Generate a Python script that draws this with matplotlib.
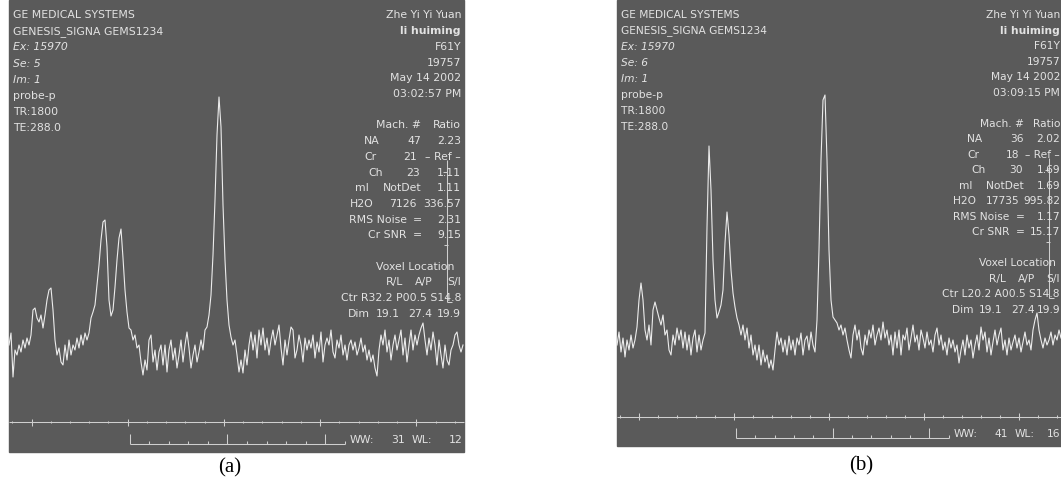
import numpy as np
import matplotlib
matplotlib.use("Agg")
import matplotlib.pyplot as plt
from matplotlib.patches import Rectangle

W, H = 1061, 483
BG = "#5a5a5a"
FG = "#e2e2e2"
LINE = "#cfcfcf"
FONT = "DejaVu Sans"
FS = 7.8

# spectrum amplitude above baseline, one sample every 2 px
spec_a = [15, 27, -17, 10, 5, 15, 8, 20, 12, 22,
          15, 25, 50, 52, 42, 38, 45, 32, 45, 60,
          70, 72, 50, 20, 5, 12, -2, -5, 15, 0,
          20, 5, 15, 10, 22, 12, 25, 15, 27, 20,
          27, 42, 48, 55, 75, 95, 120, 138, 140, 113,
          60, 44, 50, 73, 100, 122, 131, 102, 70, 48,
          32, 30, 20, 25, 12, 15, -2, -15, 0, -10,
          20, 25, -2, 10, -10, 8, 15, -5, 15, -12,
          10, 20, 0, 12, -8, 5, 20, -2, 15, 28,
          12, -8, 5, 15, -2, 8, 20, 10, 30, 33,
          45, 65, 105, 160, 225, 263, 233, 155, 100, 60,
          35, 23, 15, 20, 5, -12, 0, -13, 10, -5,
          15, 28, 10, 25, 2, 30, 15, 32, 10, 22,
          5, 20, 30, 15, 25, 35, 12, -5, 20, 5,
          20, 33, 30, 2, 10, 25, 15, -2, 22, 10,
          20, 12, 25, 2, 18, 8, 28, -2, 15, 22,
          15, 30, 8, 2, 20, 12, 25, 5, 15, 0,
          15, 20, 10, 18, 5, 12, 22, 8, 15, 0,
          10, -2, 5, -8, -16, 10, 25, 15, 30, 8,
          20, 0, 15, 25, 10, 20, 30, 5, 22, -2,
          15, 30, 10, 25, 15, 25, 32, 37, 20, 5,
          22, 10, 28, 15, -5, 20, 5, -8, 15, 0,
          -5, 10, 15, 25, 28, 15, 8, 15]

spec_b = [0, 13, -7, 7, -12, 5, -5, 10, -3, 5,
          18, 45, 62, 45, 15, 5, 20, 0, 35, 43,
          35, 27, 20, 30, 10, 15, -5, -10, 10, 0,
          17, 5, 15, -3, 13, -5, 10, -10, 7, 15,
          -7, 10, -5, 5, 12, 118, 199, 155, 85, 45,
          27, 33, 40, 55, 102, 133, 110, 75, 52, 38,
          27, 20, 10, 20, 5, 17, -3, 10, -10, 0,
          -15, 0, -20, -5, -17, -10, -23, -15, -25, -5,
          13, 0, 7, -7, 5, -10, 9, -5, 5, -10,
          7, 0, 12, -10, 5, 9, -5, 13, 0, -7,
          25, 95, 185, 245, 250, 185, 95, 45, 28, 25,
          22, 15, 20, 10, 17, 5, -5, -13, 10, 20,
          5, 15, -3, -10, 10, 0, 15, 7, 20, 0,
          10, 17, 5, 23, 7, 15, 0, 10, -10, 13,
          -3, 15, -10, 10, 5, 17, -5, 7, 20, 3,
          10, -5, 15, 7, -3, 13, 0, 5, -7, 10,
          17, 0, 10, -5, 3, -10, 7, -3, 5, -7,
          0, -18, -5, 5, -10, 10, -3, 5, -13, 0,
          10, -5, 18, 5, 13, -7, 7, -10, 3, 15,
          0, 10, 17, -5, 5, -10, 7, -5, 3, 10,
          -3, 7, -7, 3, 13, 0, 5, -5, 15, 25,
          32, 15, 5, -3, 7, 0, 5, 13, 0, 10,
          5, 15, 7]

left_a = ["GE MEDICAL SYSTEMS", "GENESIS_SIGNA GEMS1234", "Ex: 15970", "Se: 5",
          "Im: 1", "probe-p", "TR:1800", "TE:288.0"]
left_b = ["GE MEDICAL SYSTEMS", "GENESIS_SIGNA GEMS1234", "Ex: 15970", "Se: 6",
          "Im: 1", "probe-p", "TR:1800", "TE:288.0"]
head_a = ["Zhe Yi Yi Yuan", "li huiming", "F61Y", "19757", "May 14 2002", "03:02:57 PM"]
head_b = ["Zhe Yi Yi Yuan", "li huiming", "F61Y", "19757", "May 14 2002", "03:09:15 PM"]

metab = ["NA", "Cr", "Ch", "mI", "H2O"]
mach_a = ["47", "21", "23", "NotDet", "7126"]
ratio_a = ["2.23", "\u2013 Ref \u2013", "1.11", "1.11", "336.57"]
mach_b = ["36", "18", "30", "NotDet", "17735"]
ratio_b = ["2.02", "\u2013 Ref \u2013", "1.69", "1.69", "995.82"]
noise_a = ["2.31", "9.15"]
noise_b = ["1.17", "15.17"]
ctr_a = "Ctr R32.2 P00.5 S14.8"
ctr_b = "Ctr L20.2 A00.5 S14.8"
dim = ["19.1", "27.4", "19.9"]
win_a = ["31", "12"]
win_b = ["41", "16"]

# panel (b) is the same screen, slightly smaller
pan_a = {"x0": 9, "k": 1.0}
pan_b = {"x0": 617, "k": 0.987}


def px(p, x, y):
    return p["x0"] + (x - 9) * p["k"], y * p["k"]


def put(ax, p, x, y, s, ha="left", **kw):
    X, Y = px(p, x, y)
    ax.text(min(X, W - 1), Y, s, ha=ha, va="center", fontsize=FS * p["k"],
            color=FG, family=FONT, **kw)


def seg(ax, p, xs, ys, **kw):
    X = [px(p, x, 0)[0] for x in xs]
    Y = [px(p, 0, y)[1] for y in ys]
    ax.plot(X, Y, color=LINE, lw=0.75, solid_capstyle="butt", **kw)


def panel(ax, p, left, head, mach, ratio, noise, ctr, win):
    X, Y = px(p, 9, 0)
    ax.add_patch(Rectangle((X, 0), 455 * p["k"], 452 * p["k"], color=BG, zorder=0))

    for i, s in enumerate(left):
        st = "italic" if i in (2, 3, 4) else "normal"
        put(ax, p, 13, 15 + 16.2 * i, s, style=st)

    R = 461
    row = lambda i: 15.5 + 15.7 * i
    for i, s in enumerate(head):
        put(ax, p, R, row(i), s, ha="right",
            weight="bold" if i == 1 else "normal")

    put(ax, p, R - 40, row(7), "Mach. #", ha="right")
    put(ax, p, R, row(7), "Ratio", ha="right")
    lab_c = [-89.5, -91, -85.5, -99, -99.5]
    num_r = [-40, -44, -41, -40, -44]
    for i in range(5):
        put(ax, p, R + lab_c[i], row(8 + i), metab[i], ha="center")
        put(ax, p, R + num_r[i], row(8 + i), mach[i], ha="right")
        put(ax, p, R, row(8 + i), ratio[i], ha="right")
    for j, lab in enumerate(["RMS Noise", "Cr SNR"]):
        put(ax, p, R - 54, row(13 + j), lab, ha="right")
        put(ax, p, R - 39, row(13 + j), "=", ha="right")
        put(ax, p, R, row(13 + j), noise[j], ha="right")

    put(ax, p, R - 7, row(16), "Voxel Location", ha="right")
    put(ax, p, R - 58, row(17), "R/L", ha="right")
    put(ax, p, R - 28, row(17), "A/P", ha="right")
    put(ax, p, R, row(17), "S/I", ha="right")
    put(ax, p, R, row(18), ctr, ha="right")
    put(ax, p, R - 113, row(19), "Dim")
    for j, s in enumerate(dim):
        put(ax, p, R + [-61, -29, 0][j], row(19), s, ha="right")

    # cursor
    seg(ax, p, [447, 447], [160, 302])
    seg(ax, p, [443, 447], [172, 172])
    seg(ax, p, [444, 448], [245, 245])
    seg(ax, p, [447, 452], [302, 302])

    # ppm ruler
    seg(ax, p, [9, 464], [422, 422])
    for j in range(-1, 23):
        x = 31.5 + 19.24 * j
        h = 3.5 if j % 5 == 0 else 1.2
        seg(ax, p, [x, x], [422 - h, 422 + h])

    # scale bracket
    seg(ax, p, [129.5, 345], [444, 444])
    for j in range(12):
        x = 129.5 + 19.58 * j
        h = 10 if j % 5 == 0 else 3.5
        seg(ax, p, [x, x], [444 - h, 444])

    put(ax, p, 350, 440, "WW:")
    put(ax, p, 405, 440, win[0], ha="right")
    put(ax, p, 412, 440, "WL:")
    put(ax, p, 463, 440, win[1], ha="right")


fig = plt.figure(figsize=(W / 100, H / 100), dpi=100)
ax = fig.add_axes([0, 0, 1, 1])
ax.set_xlim(0, W)
ax.set_ylim(H, 0)
ax.axis("off")

panel(ax, pan_a, left_a, head_a, mach_a, ratio_a, noise_a, ctr_a, win_a)
panel(ax, pan_b, left_b, head_b, mach_b, ratio_b, noise_b, ctr_b, win_b)

xa = 9 + 2 * np.arange(len(spec_a))
ax.plot(xa, 360 - np.array(spec_a), color="#ececec", lw=0.8)
xb = 617 + 2 * np.arange(len(spec_b))
ax.plot(xb, 345 - np.array(spec_b), color="#ececec", lw=0.8)

ax.text(230, 468, "(a)", ha="center", va="center", fontsize=15,
        family="Liberation Serif", color="black")
ax.text(861, 466, "(b)", ha="center", va="center", fontsize=15,
        family="Liberation Serif", color="black")

fig.savefig("out.png", dpi=100)
